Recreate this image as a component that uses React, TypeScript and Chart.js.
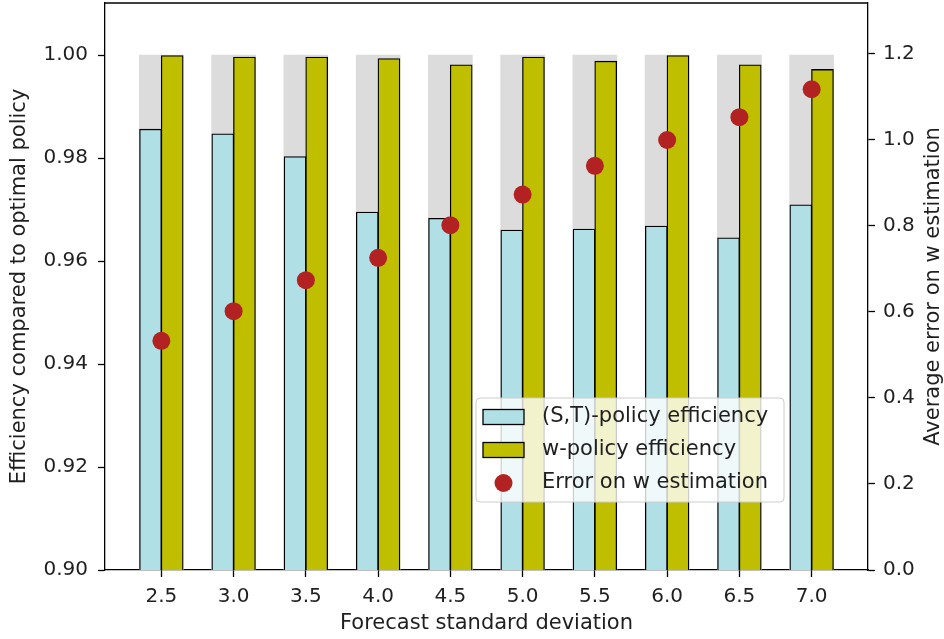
import React, { useEffect, useRef } from "react";
import { Chart, registerables } from "chart.js";

Chart.register(...registerables);

const categories = ["2.5", "3.0", "3.5", "4.0", "4.5", "5.0", "5.5", "6.0", "6.5", "7.0"];
const optimalEfficiency = [1.0, 1.0, 1.0, 1.0, 1.0, 1.0, 1.0, 1.0, 1.0, 1.0];
const stEfficiency = [0.9856, 0.9847, 0.9803, 0.9695, 0.9683, 0.966, 0.9662, 0.9668, 0.9645, 0.9709];
const wEfficiency = [0.9999, 0.9996, 0.9996, 0.9993, 0.9981, 0.9996, 0.9988, 0.9999, 0.9981, 0.9972];
const wError = [0.533, 0.602, 0.674, 0.726, 0.802, 0.873, 0.94, 1.0, 1.053, 1.118];
const leftTicks = [0.9, 0.92, 0.94, 0.96, 0.98, 1.0];
const rightTicks = [0.0, 0.2, 0.4, 0.6, 0.8, 1.0, 1.2];

const labelST = "(S,T)-policy efficiency";
const labelW = "w-policy efficiency";
const labelErr = "Error on w estimation";
const rightTitle = "Average error on w estimation";

const FONT = "'DejaVu Sans', sans-serif";
const TEXT = "#1f1f1f";
const C_GRAY = "#dcdcdc";
const C_ST = "#b0e0e6";
const C_W = "#bfbf00";
const C_ERR = "#b22222";

const frameAndLegend = {
  id: "frameAndLegend",
  afterDraw(chart: any) {
    const { ctx, chartArea } = chart;
    ctx.save();
    // top spine
    ctx.strokeStyle = "#000";
    ctx.lineWidth = 1.3;
    ctx.beginPath();
    ctx.moveTo(chartArea.left, chartArea.top);
    ctx.lineTo(chartArea.right, chartArea.top);
    ctx.stroke();

    // right axis title (reads bottom to top)
    ctx.save();
    ctx.translate(934, (chartArea.top + chartArea.bottom) / 2);
    ctx.rotate(-Math.PI / 2);
    ctx.fillStyle = TEXT;
    ctx.font = `21px ${FONT}`;
    ctx.textAlign = "center";
    ctx.textBaseline = "middle";
    ctx.fillText(rightTitle, 0, 0);
    ctx.restore();

    // legend
    const lx = 476, ly = 398, lw = 308, lh = 104, r = 4;
    ctx.beginPath();
    ctx.moveTo(lx + r, ly);
    ctx.lineTo(lx + lw - r, ly);
    ctx.quadraticCurveTo(lx + lw, ly, lx + lw, ly + r);
    ctx.lineTo(lx + lw, ly + lh - r);
    ctx.quadraticCurveTo(lx + lw, ly + lh, lx + lw - r, ly + lh);
    ctx.lineTo(lx + r, ly + lh);
    ctx.quadraticCurveTo(lx, ly + lh, lx, ly + lh - r);
    ctx.lineTo(lx, ly + r);
    ctx.quadraticCurveTo(lx, ly, lx + r, ly);
    ctx.closePath();
    ctx.fillStyle = "rgba(255,255,255,0.8)";
    ctx.fill();
    ctx.strokeStyle = "#cccccc";
    ctx.lineWidth = 1;
    ctx.stroke();

    const rows = [417, 450, 483];
    const sx = 483, sw = 41, sh = 15;
    ctx.lineWidth = 1.3;
    ctx.strokeStyle = "#000";
    ctx.fillStyle = C_ST;
    ctx.fillRect(sx, rows[0] - sh / 2, sw, sh);
    ctx.strokeRect(sx, rows[0] - sh / 2, sw, sh);
    ctx.fillStyle = C_W;
    ctx.fillRect(sx, rows[1] - sh / 2, sw, sh);
    ctx.strokeRect(sx, rows[1] - sh / 2, sw, sh);
    ctx.fillStyle = C_ERR;
    ctx.beginPath();
    ctx.arc(sx + sw / 2, rows[2], 9, 0, Math.PI * 2);
    ctx.fill();

    ctx.fillStyle = TEXT;
    ctx.font = `21px ${FONT}`;
    ctx.textBaseline = "middle";
    ctx.textAlign = "left";
    ctx.fillText(labelST, 542, rows[0]);
    ctx.fillText(labelW, 542, rows[1]);
    ctx.fillText(labelErr, 542, rows[2]);
    ctx.restore();
  },
};

const zeroPad = (s: any) => {
  s.paddingTop = 0;
  s.paddingBottom = 0;
  s.paddingLeft = 0;
  s.paddingRight = 0;
};

export default function App() {
  const ref = useRef<HTMLCanvasElement | null>(null);

  useEffect(() => {
    if (!ref.current) return;
    const idx = categories.map((_, i) => i);
    const tickGrid = {
      display: true,
      drawOnChartArea: false,
      drawTicks: true,
      offset: false,
      tickLength: 7,
      tickWidth: 1.3,
      tickColor: "#000",
    };
    const chart = new Chart(ref.current, {
      type: "bar",
      data: {
        datasets: [
          {
            type: "scatter",
            label: labelErr,
            data: idx.map((i) => ({ x: i, y: wError[i] })),
            yAxisID: "y2",
            xAxisID: "x",
            backgroundColor: C_ERR,
            borderWidth: 0,
            pointRadius: 9,
            order: 1,
          } as any,
          {
            type: "bar",
            label: labelW,
            data: idx.map((i) => ({ x: i + 0.15, y: wEfficiency[i] })),
            yAxisID: "y",
            backgroundColor: C_W,
            borderColor: "#000",
            borderWidth: 1.3,
            barThickness: 22,
            grouped: false,
            order: 2,
          } as any,
          {
            type: "bar",
            label: labelST,
            data: idx.map((i) => ({ x: i - 0.15, y: stEfficiency[i] })),
            yAxisID: "y",
            backgroundColor: C_ST,
            borderColor: "#000",
            borderWidth: 1.3,
            barThickness: 22,
            grouped: false,
            order: 3,
          } as any,
          {
            type: "bar",
            label: "optimal",
            data: idx.map((i) => ({ x: i, y: optimalEfficiency[i] })),
            yAxisID: "y",
            backgroundColor: C_GRAY,
            borderWidth: 0,
            barThickness: 44,
            grouped: false,
            order: 4,
          } as any,
        ],
      },
      options: {
        animation: false,
        responsive: false,
        devicePixelRatio: 1,
        layout: { autoPadding: false, padding: { top: 3, left: 0, right: 0, bottom: 0 } },
        plugins: { legend: { display: false }, tooltip: { enabled: false } },
        scales: {
          x: {
            type: "linear",
            position: "bottom",
            min: -0.78,
            max: 9.78,
            offset: false,
            grid: tickGrid,
            border: { display: true, color: "#000", width: 1.3 },
            afterBuildTicks: (s: any) => {
              s.ticks = idx.map((i) => ({ value: i }));
            },
            ticks: {
              autoSkip: false,
              maxRotation: 0,
              padding: 8,
              color: TEXT,
              font: { family: FONT, size: 20 },
              callback: (v: any) => categories[Math.round(Number(v))] ?? "",
            },
            title: {
              display: true,
              text: "Forecast standard deviation",
              color: TEXT,
              font: { family: FONT, size: 21, lineHeight: 1 },
              padding: { top: 0, bottom: 4.5 },
            },
            afterFit: (s: any) => {
              s.height = 69;
              zeroPad(s);
            },
          } as any,
          y: {
            type: "linear",
            position: "left",
            min: 0.9,
            max: 1.0101,
            grid: tickGrid,
            border: { display: true, color: "#000", width: 1.3 },
            afterBuildTicks: (s: any) => {
              s.ticks = leftTicks.map((v) => ({ value: v }));
            },
            ticks: {
              padding: 10,
              color: TEXT,
              font: { family: FONT, size: 20 },
              callback: (v: any) => Number(v).toFixed(2),
            },
            title: {
              display: true,
              text: "Efficiency compared to optimal policy",
              color: TEXT,
              font: { family: FONT, size: 21, lineHeight: 1 },
              padding: { top: 9.5, bottom: 0 },
            },
            afterFit: (s: any) => {
              s.width = 105;
              zeroPad(s);
            },
          } as any,
          y2: {
            type: "linear",
            position: "right",
            min: 0,
            max: 1.3186,
            grid: tickGrid,
            border: { display: true, color: "#000", width: 1.3 },
            afterBuildTicks: (s: any) => {
              s.ticks = rightTicks.map((v) => ({ value: v }));
            },
            ticks: {
              padding: 8,
              color: TEXT,
              font: { family: FONT, size: 20 },
              callback: (v: any) => Number(v).toFixed(1),
            },
            title: { display: false },
            afterFit: (s: any) => {
              s.width = 76;
              zeroPad(s);
            },
          } as any,
        },
      } as any,
      plugins: [frameAndLegend],
    });
    return () => chart.destroy();
  }, []);

  return (
    <div style={{ position: "fixed", left: 0, top: 0, width: 944, height: 639, background: "#fff" }}>
      <canvas ref={ref} width={944} height={639} style={{ width: 944, height: 639, display: "block" }} />
    </div>
  );
}
